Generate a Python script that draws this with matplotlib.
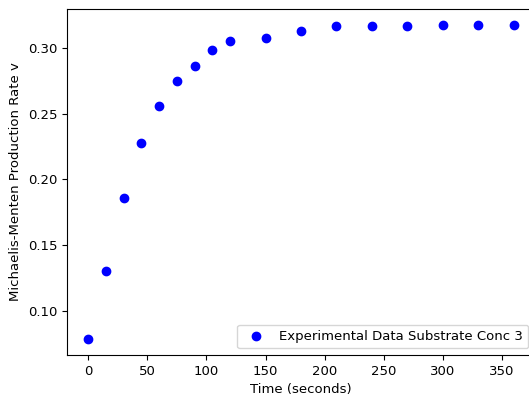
import matplotlib
matplotlib.use("Agg")
import matplotlib.pyplot as plt

# time points (s) and measured production rate for substrate conc 3
time_s = [0, 15, 30, 45, 60, 75, 90, 105, 120, 150, 180, 210, 240, 270, 300, 330, 360]
rate_v = [0.0788, 0.1306, 0.1861, 0.2280, 0.2558, 0.2748, 0.2861, 0.2983, 0.3053,
          0.3073, 0.3124, 0.3167, 0.3167, 0.3167, 0.3174, 0.3174, 0.3174]

plt.rcParams["font.size"] = 9.5

fig = plt.figure(figsize=(5.29, 3.96), dpi=100)
# the reference is cropped on the right, so the axes run just past the canvas edge
ax = fig.add_axes([67 / 529, 41 / 396, 468 / 529, 346 / 396])
ax.plot(time_s, rate_v, "bo", label="Experimental Data Substrate Conc 3")
ax.set_xlabel("Time (seconds)")
ax.set_ylabel("Michaelis-Menten Production Rate v")
ax.legend(loc="lower right")
fig.savefig("out.png", dpi=100)
